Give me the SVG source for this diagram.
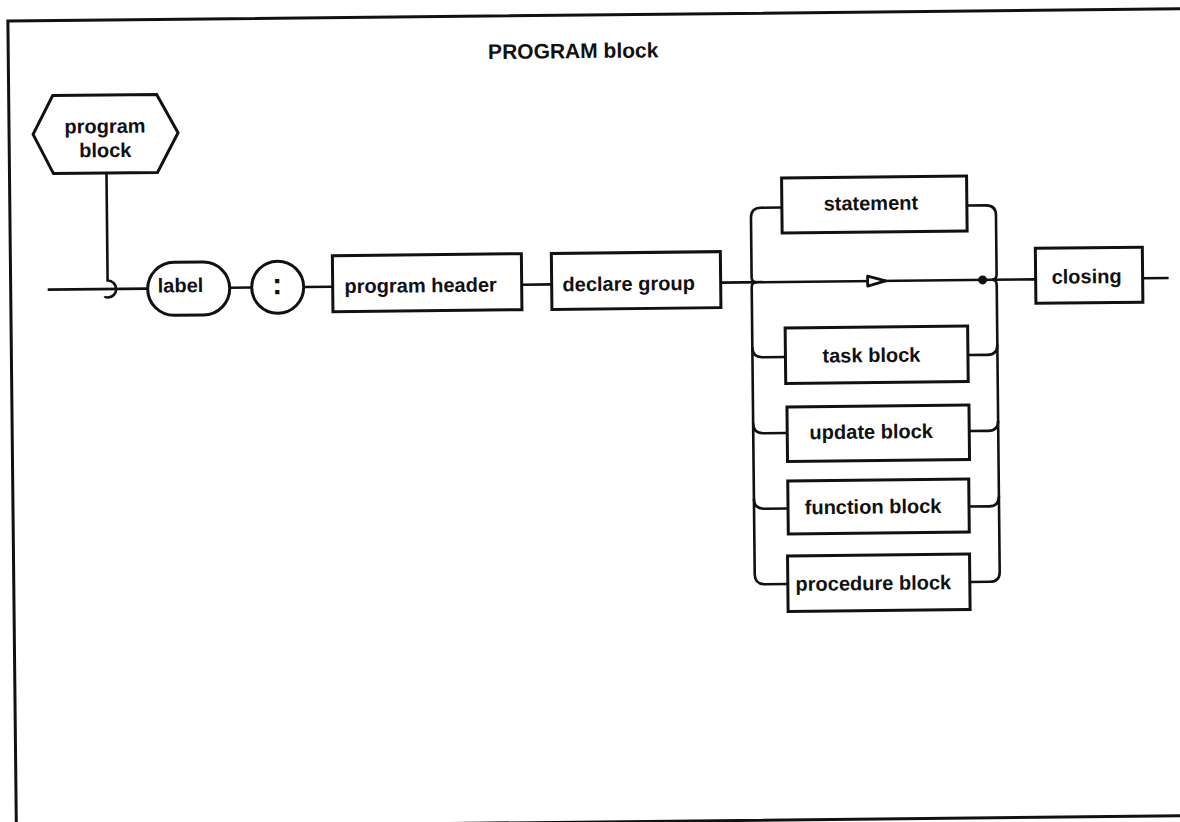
<svg xmlns="http://www.w3.org/2000/svg" width="1180" height="822" viewBox="0 0 1180 822">
<style>
.box{fill:#fff;stroke:#111;stroke-width:3}
.ln{fill:none;stroke:#111;stroke-width:2.6}
.t{font-family:"Liberation Sans",Arial,sans-serif;font-weight:bold;font-size:20px;fill:#111}
.m{text-anchor:middle}
</style>
<rect width="1180" height="822" fill="#fff"/>
<g transform="rotate(-0.6 590 411)">
<rect x="12" y="15" width="1200" height="807" fill="none" stroke="#111" stroke-width="3"/>
<text class="t m" x="577" y="58" style="font-size:21px">PROGRAM block</text>
<g id="connectors">
<path class="ln" d="M109 168 V275.5 A8.5 8.5 0 0 1 109 292.5 Q106.5 292.5 106 291"/>
<path class="ln" d="M49 284 H149"/>
<path class="ln" d="M231 284 H253"/>
<path class="ln" d="M305 284 H334"/>
<path class="ln" d="M523 284 H553"/>
<path class="ln" d="M722 284 H993"/>
<path class="ln" d="M993 284 H1037"/>
<path class="ln" d="M1144 284 H1170"/>
<path class="ln" d="M784 209.5 H763 Q753 209.5 753 219.5 V279 Q753 284 758 284"/>
<path class="ln" d="M758 284 Q753 284 753 289 V576 Q753 586 763 586 H786"/>
<path class="ln" d="M753 349 Q753 359 763 359 H786"/>
<path class="ln" d="M753 425 Q753 435 763 435 H787"/>
<path class="ln" d="M753 500.5 Q753 510.5 763 510.5 H787"/>
<path class="ln" d="M969 209.5 H988 Q998 209.5 998 219.5 V279 Q998 284 993 284"/>
<path class="ln" d="M993 284 Q998 284 998 289 V576 Q998 586 988 586 H968"/>
<path class="ln" d="M968 359 H988 Q998 359 998 349"/>
<path class="ln" d="M969 435 H988 Q998 435 998 425"/>
<path class="ln" d="M968 510.5 H988 Q998 510.5 998 500.5"/>
<polygon points="869,279 887,284 869,289" fill="#fff" stroke="#111" stroke-width="2.8" stroke-linejoin="round"/>
<circle cx="984" cy="284" r="4.5" fill="#111"/>
</g>
<g id="program-block">
<polygon class="box" points="36,128.5 56,90 160,90 181,128.5 160,168 56,168"/>
<text class="t m" x="108" y="128">program</text>
<text class="t m" x="108" y="152">block</text>
</g>
<g id="label">
<rect class="box" x="149" y="258" width="82" height="53" rx="26.5"/>
<text class="t" x="159" y="288">label</text>
</g>
<g id="colon">
<circle class="box" cx="279" cy="284" r="26"/>
<text class="t m" x="278.5" y="291" style="font-size:30px">:</text>
</g>
<g id="program-header">
<rect class="box" x="334" y="253" width="189" height="56"/>
<text class="t m" x="422" y="290.5">program header</text>
</g>
<g id="declare-group">
<rect class="box" x="553" y="253" width="169" height="56"/>
<text class="t m" x="630" y="291">declare group</text>
</g>
<g id="statement">
<rect class="box" x="784" y="180" width="185" height="55"/>
<text class="t m" x="873" y="213">statement</text>
</g>
<g id="task-block">
<rect class="box" x="786" y="330" width="182.5" height="55.5"/>
<text class="t m" x="872" y="365">task block</text>
</g>
<g id="update-block">
<rect class="box" x="787" y="409" width="182" height="54.5"/>
<text class="t m" x="871" y="441.5">update block</text>
</g>
<g id="function-block">
<rect class="box" x="787" y="483" width="181" height="53"/>
<text class="t m" x="872" y="516.5">function block</text>
</g>
<g id="procedure-block">
<rect class="box" x="786" y="558" width="182" height="55.5"/>
<text class="t m" x="871.5" y="593">procedure block</text>
</g>
<g id="closing">
<rect class="box" x="1037" y="253" width="107" height="55"/>
<text class="t m" x="1088" y="288.5">closing</text>
</g>
</g>
</svg>
